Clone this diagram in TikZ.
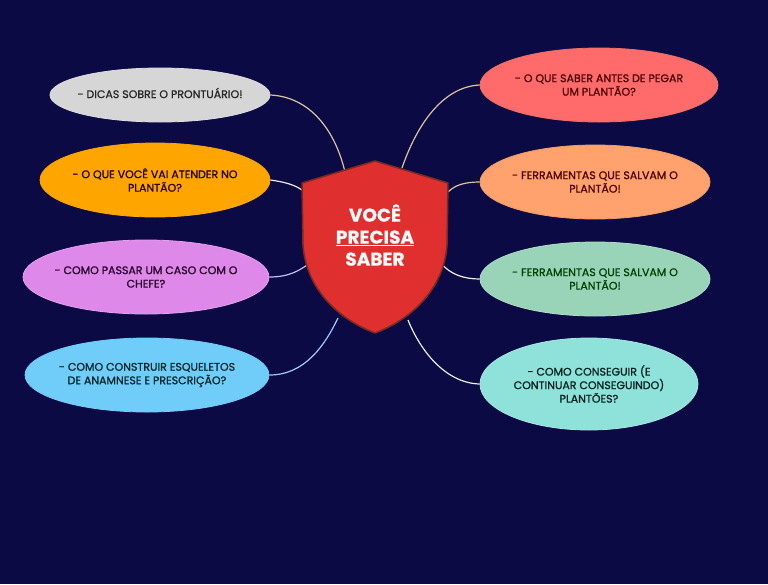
\documentclass[tikz,border=0pt]{standalone}
\usepackage{fontspec}
\setmainfont{Poppins}
\newfontfamily\medfont{Poppins}[FakeBold=0.9]
\newfontfamily\heavyfont{Poppins}[BoldFeatures={FakeBold=0.6}]
\usetikzlibrary{shapes.geometric}
\definecolor{bg}{HTML}{0C0A45}
\definecolor{cgray}{HTML}{D6D6D6}
\definecolor{corange}{HTML}{FFA500}
\definecolor{cpink}{HTML}{DE88EA}
\definecolor{cblue}{HTML}{70CCF8}
\definecolor{csalmon}{HTML}{FF6B6B}
\definecolor{clorange}{HTML}{FFA26E}
\definecolor{cmint}{HTML}{9AD4B8}
\definecolor{cteal}{HTML}{8EE2DA}
\definecolor{shieldred}{HTML}{E02F2F}
\definecolor{shieldedge}{HTML}{7A2A20}
\tikzset{
  bubble/.style={ellipse, inner sep=0pt, line width=0.8pt},
  btext/.style={align=center, inner sep=0pt, font=\medfont\fontsize{11}{13.5}\selectfont},
  link/.style={line width=1.2pt}
}
\begin{document}
\begin{tikzpicture}[x=1pt,y=-1pt]
\fill[bg] (0,0) rectangle (768,584);
\useasboundingbox (0,0) rectangle (768,584);
% ellipses
\node[bubble, fill=cgray, draw=cgray!80!white, minimum width=220pt, minimum height=54pt] (n1) at (160,95) {};
\node[bubble, fill=corange, draw=corange, minimum width=230pt, minimum height=74pt] (n2) at (155,180) {};
\node[bubble, fill=cpink, draw=cpink!80!white, minimum width=246pt, minimum height=74pt] (n3) at (146,277) {};
\node[bubble, fill=cblue, draw=cblue, minimum width=244pt, minimum height=74pt] (n4) at (147,375) {};
\node[bubble, fill=csalmon, draw=csalmon!70!brown, minimum width=238pt, minimum height=74pt] (n5) at (599,85) {};
\node[bubble, fill=clorange, draw=clorange!80!brown, minimum width=230pt, minimum height=74pt] (n6) at (595,182) {};
\node[bubble, fill=cmint, draw=cmint!80!white, minimum width=230pt, minimum height=74pt] (n7) at (595,279) {};
\node[bubble, fill=cteal, draw=cteal!80!white, minimum width=218pt, minimum height=92pt] (n8) at (589,384) {};
% texts
\node[btext, text=black!85] (t1) at ([yshift=2pt]n1.center) {- DICAS SOBRE O PRONTUÁRIO!};
\node[btext, text=black!75!red!60!black] (t2) at (n2.center) {- O QUE VOCÊ VAI ATENDER NO\\PLANTÃO?};
\node[btext, text=black!70!violet] (t3) at (n3.center) {- COMO PASSAR UM CASO COM O\\CHEFE?};
\node[btext, text=black!70!teal] (t4) at (n4.center) {- COMO CONSTRUIR ESQUELETOS\\DE ANAMNESE E PRESCRIÇÃO?};
\node[btext, text=black!70!red] (t5) at (n5.center) {- O QUE SABER ANTES DE PEGAR\\UM PLANTÃO?};
\node[btext, text=black!70!red] (t6) at (n6.center) {- FERRAMENTAS QUE SALVAM O\\PLANTÃO!};
\node[btext, text=black!75!green] (t7) at (n7.center) {- FERRAMENTAS QUE SALVAM O\\PLANTÃO!};
\node[btext, text=black!75!teal] (t8) at (n8.center) {- COMO CONSEGUIR (E\\CONTINUAR CONSEGUINDO)\\PLANTÕES?};
% shield attachment points
\coordinate (s1) at (345,172);
\coordinate (s2) at (302,190);
\coordinate (s3) at (310,263);
\coordinate (s4) at (338,318);
\coordinate (s5) at (402,168);
\coordinate (s6) at (448,192);
\coordinate (s7) at (440,262);
\coordinate (s8) at (408,320);
% connectors
\draw[link, color={rgb,255:red,217;green,196;blue,160}] (n1.east) .. controls (310,97) and (335,130) .. (s1);
\draw[link, color=white!85!gray] (n2.east) .. controls (285,182) and (295,185) .. (s2);
\draw[link, color={rgb,255:red,200;green,190;blue,240}] (n3.east) .. controls (290,277) and (300,270) .. (s3);
\draw[link, color={rgb,255:red,160;green,200;blue,255}] (n4.east) .. controls (305,375) and (325,345) .. (s4);
\draw[link, color={rgb,255:red,217;green,196;blue,160}] (n5.west) .. controls (440,87) and (415,130) .. (s5);
\draw[link, color={rgb,255:red,217;green,196;blue,160}] (n6.west) .. controls (465,182) and (455,185) .. (s6);
\draw[link, color=white!85!gray] (n7.west) .. controls (465,279) and (450,275) .. (s7);
\draw[link, color=white!85!gray] (n8.west) .. controls (445,383) and (420,350) .. (s8);
% shield
\draw[fill=shieldred, draw=shieldedge, line width=1.5pt, line join=round]
  (375,161) -- (302,183) -- (303,245) .. controls (306,290) and (340,320) .. (375,333)
  .. controls (410,320) and (444,290) .. (447,245) -- (448,183) -- cycle;
\node[align=center, text=white!92!pink, font=\heavyfont\bfseries\fontsize{18.5}{22}\selectfont, inner sep=0pt] (c) at (375,235) {VOCÊ\\\underline{PRECISA}\\SABER};
\end{tikzpicture}
\end{document}
